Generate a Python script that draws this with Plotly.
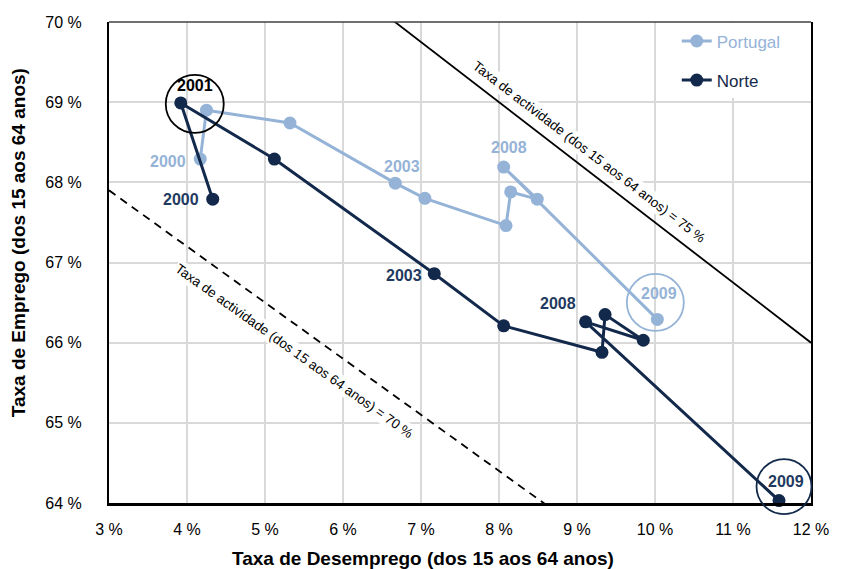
import math
import plotly.graph_objects as go

# Unemployment (x) and employment (y) rates, population aged 15-64, 2000-2009
years = [2000, 2001, 2002, 2003, 2004, 2005, 2006, 2007, 2008, 2009]
portugal_unemp = [4.17, 4.25, 5.32, 6.67, 7.05, 8.09, 8.15, 8.49, 8.06, 10.03]
portugal_emp = [68.29, 68.90, 68.74, 67.99, 67.80, 67.46, 67.88, 67.79, 68.19, 66.29]
norte_unemp = [4.33, 3.92, 5.12, 7.17, 8.06, 9.32, 9.36, 9.85, 9.11, 11.59]
norte_emp = [67.79, 68.99, 68.29, 66.86, 66.21, 65.88, 66.35, 66.03, 66.26, 64.03]

# Iso-activity reference lines: employment = activity * (1 - unemployment)
activity_rates = [75, 70]

x_ticks = [3, 4, 5, 6, 7, 8, 9, 10, 11, 12]
y_ticks = [64, 65, 66, 67, 68, 69, 70]
x_tick_text = [f"{v} %" for v in x_ticks]
y_tick_text = [f"{v} %" for v in y_ticks]

PT_COLOR = "#95B3D7"
NO_COLOR = "#13294B"
NO_LABEL = "#1F3A60"
FONT = "Liberation Sans, Arial, sans-serif"

W, H = 841, 569
M = dict(l=109, r=26, t=22, b=66)
x_rng = [x_ticks[0], x_ticks[-1]]
y_rng = [y_ticks[0], y_ticks[-1]]
ppx = (W - M["l"] - M["r"]) / (x_rng[1] - x_rng[0])
ppy = (H - M["t"] - M["b"]) / (y_rng[1] - y_rng[0])

fig = go.Figure()

# activity-rate lines
for a, dash in zip(activity_rates, ["solid", "8px,6px"]):
    fig.add_trace(go.Scatter(
        x=x_rng, y=[a * (1 - u / 100) for u in x_rng], mode="lines",
        line=dict(color="black", width=1.8, dash=dash),
        showlegend=False, hoverinfo="skip"))

fig.add_trace(go.Scatter(
    x=portugal_unemp, y=portugal_emp, mode="lines+markers",
    name=f'<span style="color:{PT_COLOR}">Portugal</span>',
    line=dict(color=PT_COLOR, width=3), marker=dict(size=13, color=PT_COLOR),
    legendgroup="pt", cliponaxis=False))
fig.add_trace(go.Scatter(
    x=norte_unemp, y=norte_emp, mode="lines+markers",
    name=f'<span style="color:{NO_COLOR}">Norte</span>',
    line=dict(color=NO_COLOR, width=3), marker=dict(size=13, color=NO_COLOR),
    legendgroup="no", cliponaxis=False))

annotations = []

# year labels: (series, year, xshift, yshift, xanchor)
year_labels = [
    ("pt", 2000, -12, -2, "right"),
    ("no", 2000, -12, 0, "right"),
    ("no", 2001, 14, 17, "center"),
    ("pt", 2003, 7, 17, "center"),
    ("pt", 2008, 5, 20, "center"),
    ("no", 2003, -10, -2, "right"),
    ("no", 2008, -8, 18, "right"),
    ("pt", 2009, 2, 26, "center"),
    ("no", 2009, 7, 19, "center"),
]
for series, yr, dx, dy, xa in year_labels:
    i = years.index(yr)
    if series == "pt":
        xv, yv, col = portugal_unemp[i], portugal_emp[i], PT_COLOR
    else:
        xv, yv, col = norte_unemp[i], norte_emp[i], NO_LABEL
    if series == "no" and yr == 2001:
        col = "black"
    annotations.append(dict(
        x=xv, y=yv, xref="x", yref="y", text=f"<b>{yr}</b>", showarrow=False,
        xshift=dx, yshift=dy, xanchor=xa, yanchor="middle",
        font=dict(family=FONT, size=16, color=col)))

# labels along the activity lines
line_labels = [(75, 9.04, 16), (70, 5.546, -22)]
for a, u, d in line_labels:
    ang = math.atan(a / 100 * ppy / ppx)
    annotations.append(dict(
        x=u, y=a * (1 - u / 100), xref="x", yref="y",
        text=f"Taxa de actividade (dos 15 aos 64 anos) = {a} %",
        showarrow=False, textangle=math.degrees(ang),
        xshift=d * math.sin(ang), yshift=d * math.cos(ang),
        bgcolor="white", borderpad=1,
        font=dict(family=FONT, size=13.5, color="black")))

# axis titles
annotations.append(dict(
    x=(425 - M["l"]) / (W - M["l"] - M["r"]), y=0, xref="paper", yref="paper",
    yshift=-55, yanchor="middle",
    text="<b>Taxa de Desemprego (dos 15 aos 64 anos)</b>", showarrow=False,
    font=dict(family=FONT, size=19, color="black")))
annotations.append(dict(
    x=0, y=0.54, xref="paper", yref="paper", xshift=-91, xanchor="center",
    text="<b>Taxa de Emprego (dos 15 aos 64 anos)</b>", showarrow=False,
    textangle=-90, font=dict(family=FONT, size=19, color="black")))

# highlight circles around selected years (pixel-sized, anchored on the points)
highlights = [
    ("no", 2001, 14, -1, 29, "black"),
    ("pt", 2009, -2, 17, 28.5, PT_COLOR),
    ("no", 2009, 5, 14, 27.5, NO_COLOR),
]
shapes = []
for series, yr, dx, dy, r, col in highlights:
    i = years.index(yr)
    xv = portugal_unemp[i] if series == "pt" else norte_unemp[i]
    yv = portugal_emp[i] if series == "pt" else norte_emp[i]
    shapes.append(dict(
        type="circle", xref="paper", yref="paper",
        xsizemode="pixel", ysizemode="pixel",
        xanchor=(xv - x_rng[0]) / (x_rng[1] - x_rng[0]),
        yanchor=(yv - y_rng[0]) / (y_rng[1] - y_rng[0]),
        x0=dx - r, x1=dx + r, y0=dy - r, y1=dy + r,
        line=dict(color=col, width=1.8), layer="above"))
# top frame edge
shapes.append(dict(type="line", xref="paper", yref="paper", x0=0, x1=1, y0=1, y1=1,
                   line=dict(color="#404040", width=1.5)))

fig.update_layout(
    width=W, height=H, margin=M,
    paper_bgcolor="white", plot_bgcolor="white",
    font=dict(family=FONT, size=16, color="black"),
    annotations=annotations, shapes=shapes,
    legend=dict(x=(680 - M["l"]) / (W - M["l"] - M["r"]), xanchor="left",
                y=0.997, yanchor="top", bgcolor="white",
                font=dict(family=FONT, size=17), tracegroupgap=14,
                itemwidth=30, borderwidth=0),
    xaxis=dict(range=x_rng, tickvals=x_ticks, ticktext=x_tick_text,
               showgrid=True, gridcolor="#D9D9D9", gridwidth=1.5,
               showline=True, linecolor="black", linewidth=3,
               zeroline=False, ticks="", ticklabelstandoff=10,
               tickfont=dict(size=16)),
    yaxis=dict(range=y_rng, tickvals=y_ticks, ticktext=y_tick_text,
               showgrid=True, gridcolor="#D9D9D9", gridwidth=1.5,
               showline=True, linecolor="black", linewidth=2, mirror=True,
               zeroline=False, ticks="", ticklabelstandoff=22,
               tickfont=dict(size=16)),
)

fig.write_html("out.html")
